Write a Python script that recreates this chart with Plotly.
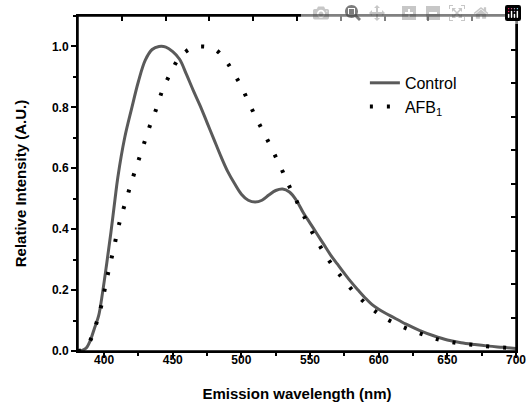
import plotly.graph_objects as go

# Control spectrum (wavelength nm, relative intensity)
control_wl = [381, 384, 387, 390, 393, 396, 399, 402, 405, 408, 410, 415, 420, 425, 430, 435,
              440, 445, 450, 455, 460, 465, 470, 475, 480, 485, 490, 495, 500, 505, 510, 515,
              520, 525, 530, 535, 540, 545, 550, 555, 560, 565, 570, 575, 580, 585, 590, 595,
              600, 605, 610, 615, 620, 630, 640, 650, 660, 670, 680, 690, 700]
control_int = [0.0, 0.002, 0.01, 0.035, 0.075, 0.115, 0.195, 0.29, 0.39, 0.5, 0.57, 0.70, 0.795,
               0.885, 0.955, 0.99, 1.0, 0.998, 0.983, 0.958, 0.908, 0.855, 0.805, 0.75, 0.695,
               0.64, 0.59, 0.55, 0.515, 0.495, 0.489, 0.495, 0.512, 0.527, 0.532, 0.522, 0.495,
               0.455, 0.42, 0.385, 0.35, 0.315, 0.285, 0.255, 0.226, 0.2, 0.175, 0.153, 0.137,
               0.124, 0.112, 0.1, 0.088, 0.067, 0.05, 0.036, 0.027, 0.021, 0.016, 0.012, 0.008]

# AFB1 spectrum
afb_wl = [381, 385, 388, 391, 395, 398.5, 401, 404, 407, 410, 413, 417, 421, 425, 429, 433, 438,
          442, 447, 454, 460, 465, 470, 476, 481, 486, 490, 494, 500, 506, 512, 518, 524, 530,
          535, 541, 547, 553, 560, 567, 575, 584, 594, 605, 618, 631, 643, 656, 669, 683, 700]
afb_int = [0.0, 0.005, 0.02, 0.045, 0.1, 0.159, 0.215, 0.278, 0.335, 0.4, 0.45, 0.51, 0.57,
           0.625, 0.68, 0.735, 0.795, 0.85, 0.9, 0.958, 0.985, 0.997, 1.0, 0.998, 0.99, 0.969,
           0.945, 0.916, 0.868, 0.81, 0.754, 0.702, 0.647, 0.59, 0.54, 0.485, 0.43, 0.378,
           0.324, 0.277, 0.231, 0.184, 0.143, 0.107, 0.078, 0.056, 0.038, 0.027, 0.02, 0.014,
           0.008]

# frame-tick helper axes (ticks every tenth of the frame)
frame_span = [0, 10]

FONT = "Liberation Sans, Arial, sans-serif"
CLEAR = dict(width=0, color="rgba(0,0,0,0)")

fig = go.Figure()
fig.add_trace(go.Scatter(x=control_wl, y=control_int, mode="lines", name="Control",
                         line=dict(color="#5a5a5a", width=3, shape="spline", smoothing=1.0)))
fig.add_trace(go.Scatter(x=afb_wl, y=afb_int, mode="lines", name="AFB<sub>1</sub>",
                         line=dict(color="black", width=4, dash="3px,14px", shape="spline",
                                   smoothing=1.0)))
fig.add_trace(go.Scatter(x=frame_span, y=frame_span, xaxis="x2", yaxis="y2", mode="lines",
                         line=CLEAR, showlegend=False, hoverinfo="skip"))

fig.update_layout(
    template="none",
    width=527, height=403,
    margin=dict(l=78, r=11, t=16, b=52, autoexpand=False),
    paper_bgcolor="white", plot_bgcolor="white",
    font=dict(family=FONT, color="black"),
    showlegend=True,
    legend=dict(x=0.655, y=0.851, xanchor="left", yanchor="top",
                font=dict(family=FONT, size=16, color="black"),
                bgcolor="rgba(0,0,0,0)", borderwidth=0),
    xaxis=dict(range=[381, 700], tick0=400, dtick=50, ticks="outside", ticklen=5,
               tickwidth=1.5, tickcolor="black", showline=True, linewidth=2, mirror=True,
               linecolor="black", showgrid=False, zeroline=False, automargin=False,
               ticklabelstandoff=-8,
               minor=dict(dtick=25, tick0=400, ticks="outside", ticklen=3, tickwidth=1.5,
                          tickcolor="black", showgrid=False),
               tickfont=dict(family=FONT, size=12, weight="bold"),
               title=dict(text="Emission wavelength (nm)", standoff=22,
                          font=dict(family=FONT, size=15, weight="bold"))),
    yaxis=dict(range=[0, 1.1], tick0=0, dtick=0.2, tickformat=".1f", ticks="outside",
               ticklen=5, tickwidth=1.5, tickcolor="black", showline=True, linewidth=2,
               mirror=True, linecolor="black", showgrid=False, zeroline=False,
               automargin=False,
               minor=dict(dtick=0.1, tick0=0, ticks="outside", ticklen=3, tickwidth=1.5,
                          tickcolor="black", showgrid=False),
               tickfont=dict(family=FONT, size=12, weight="bold"),
               title=dict(text="Relative Intensity (A.U.)", standoff=22,
                          font=dict(family=FONT, size=15, weight="bold"))),
    xaxis2=dict(overlaying="x", side="top", anchor="y2", range=frame_span, dtick=1, tick0=0,
                ticks="inside", ticklen=5, tickwidth=1.5, tickcolor="black",
                automargin=False, showticklabels=False, showline=False,
                showgrid=False, zeroline=False),
    yaxis2=dict(overlaying="y", side="right", anchor="x2", range=frame_span, dtick=1, tick0=0,
                ticks="inside", ticklen=5, tickwidth=1.5, tickcolor="black",
                automargin=False, showticklabels=False, showline=False,
                showgrid=False, zeroline=False),
    shapes=[dict(type="rect", xref="paper", yref="paper", x0=0, x1=1, y0=0, y1=1,
                 line=dict(color="black", width=1.5), fillcolor="rgba(0,0,0,0)",
                 layer="above")],
)

fig.write_html(
    "out.html",
    post_script="document.body.style.margin='0';document.body.style.overflow='hidden';",
)
